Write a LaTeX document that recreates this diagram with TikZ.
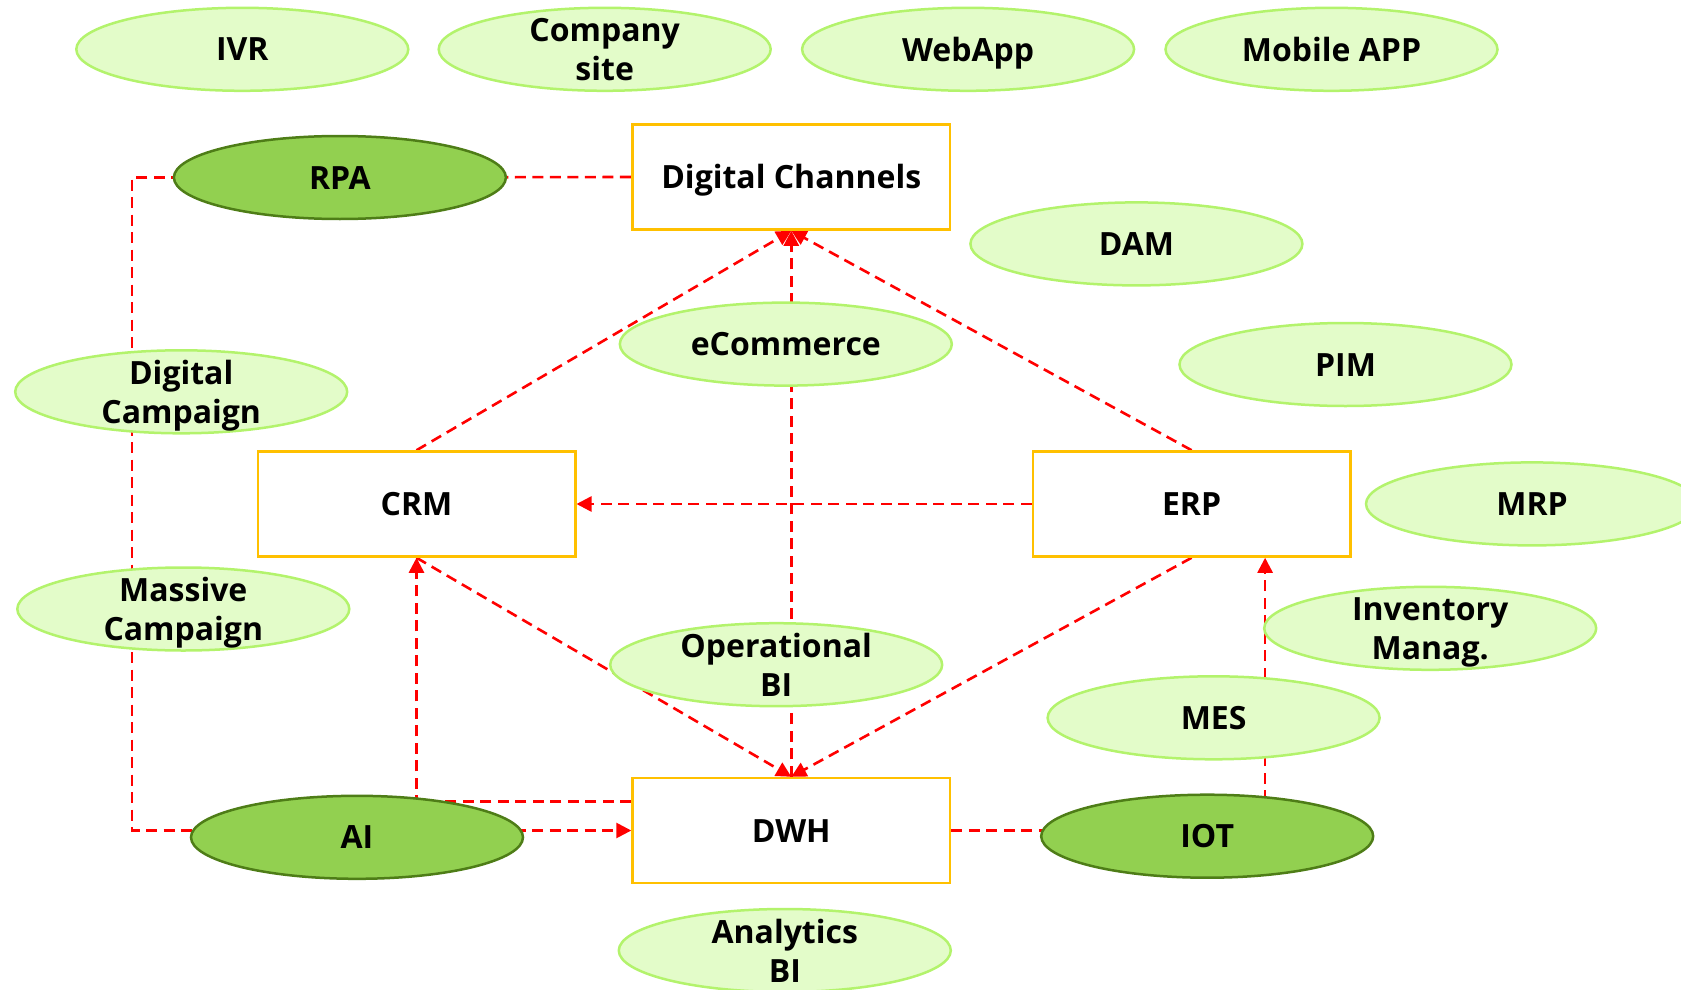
\documentclass[tikz,border=0pt]{standalone}
\usepackage{fontspec}
\setmainfont{Open Sans}
\usetikzlibrary{shapes.geometric,arrows.meta,backgrounds}
\definecolor{lfill}{HTML}{E3FCC9}
\definecolor{ldraw}{HTML}{B3F36C}
\definecolor{dfill}{HTML}{92D050}
\definecolor{ddraw}{HTML}{4E7D17}
\definecolor{boxc}{HTML}{FFC000}
\definecolor{connc}{HTML}{FF0000}
\newcommand\lst{\rule[-7.5pt]{0pt}{30.5pt}}
\newcommand\bst{\rule[-7.5pt]{0pt}{38pt}}
\tikzset{
 txt/.style={font=\bfseries\fontsize{32}{39}\selectfont, align=center, text=black, inner sep=0pt},
 ltxt/.style={txt, yshift=-3.8pt},
 ell/.style={ellipse, minimum width=332pt, minimum height=83pt, inner sep=0pt, line width=2.5pt},
 lell/.style={ell, fill=lfill, draw=ldraw},
 dell/.style={ell, fill=dfill, draw=ddraw},
 sysbox/.style={rectangle, draw=boxc, fill=white, line width=2.5pt, minimum width=317.5pt, minimum height=105pt, txt},
 link/.style={draw=connc, line width=2.6pt, dash pattern=on 11pt off 6.5pt},
 arr/.style={link, -{Triangle[length=15pt,width=15pt]}}
}
\begin{document}
\begin{tikzpicture}[x=1pt,y=-1pt]
\useasboundingbox (0,0) rectangle (1681,990);
% boxes
\node[sysbox] (dc) at (791.3,177) {Digital Channels\bst};
\node[sysbox] (crm) at (416.5,504) {CRM\bst};
\node[sysbox] (erp) at (1191.6,504) {ERP\bst};
\node[sysbox] (dwh) at (791.3,830.5) {DWH\bst};
% light ellipses
\node[lell, label={[ltxt]center:IVR\lst}] (ivr) at (242.3,49.3) {};
\node[lell, label={[ltxt]center:{Company\lst\\site\lst}}] (site) at (604.7,49.3) {};
\node[lell, label={[ltxt]center:WebApp\lst}] (webapp) at (968.1,49.3) {};
\node[lell, label={[ltxt]center:Mobile APP\lst}] (mobile) at (1331.5,49.3) {};
\node[lell, label={[ltxt]center:DAM\lst}] (dam) at (1136.4,243.9) {};
\node[lell, label={[ltxt]center:PIM\lst}] (pim) at (1345.5,364.5) {};
\node[lell, label={[ltxt]center:eCommerce\lst}] (ecom) at (785.8,344.1) {};
\node[lell, label={[ltxt]center:{Digital\lst\\Campaign\lst}}] (digcamp) at (181.2,391.8) {};
\node[lell, label={[ltxt]center:MRP\lst}] (mrp) at (1532,503.9) {};
\node[lell, label={[ltxt]center:{Massive\lst\\Campaign\lst}}] (masscamp) at (183.3,609) {};
\node[lell, label={[ltxt]center:{Inventory\lst\\Manag.\lst}}] (inv) at (1430.2,628.3) {};
\node[lell, label={[ltxt]center:{Operational\lst\\BI\lst}}] (opbi) at (776.2,664.7) {};
\node[lell, label={[ltxt]center:MES\lst}] (mes) at (1213.6,717.8) {};
\node[lell, label={[ltxt]center:{Analytics\lst\\BI\lst}}] (anbi) at (784.8,950.5) {};
% dark ellipses
\node[dell, label={[ltxt]center:RPA\lst}] (rpa) at (339.9,177.5) {};
\node[dell, label={[ltxt]center:AI\lst}] (ai) at (357,837.3) {};
\node[dell, label={[ltxt]center:IOT\lst}] (iot) at (1207.2,836.2) {};
% helper coordinates
\coordinate (lc) at (132,830.5);
\coordinate (erpin) at ([xshift=73.5pt]erp.south);
% connectors
\begin{scope}[on background layer]
\draw[link] (rpa.center) -- (dc.west);
\draw[link] (rpa.center) -| (lc) -- (lc -| ai.center);
\draw[arr] (dwh.west -| ai.center) -- (dwh.west);
\draw[arr] ([yshift=29pt]dwh.west) -| (crm.south);
\draw[arr] (dwh.north) -- (dc.south);
\draw[arr] (crm.north) -- (dc.south);
\draw[arr] (erp.north) -- (dc.south);
\draw[arr] (crm.south) -- (dwh.north);
\draw[arr] (erp.south) -- (dwh.north);
\draw[arr] (erp.west) -- (crm.east);
\draw[link] (dwh.east) -- (dwh.east -| iot.center);
\draw[arr] (erpin |- iot.center) -- (erpin);
\end{scope}
\end{tikzpicture}
\end{document}
